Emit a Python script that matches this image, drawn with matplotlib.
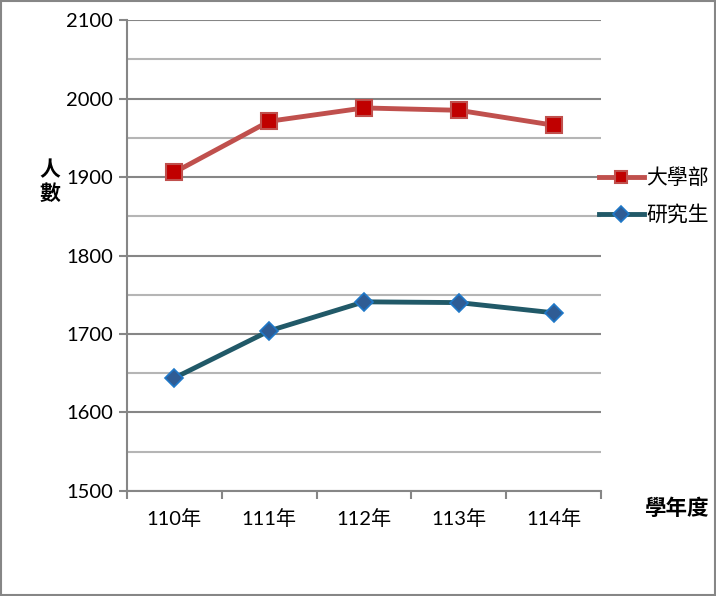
import matplotlib.pyplot as plt
from matplotlib.ticker import MultipleLocator, FixedLocator

# 學年度 enrollment data
years = ['110年', '111年', '112年', '113年', '114年']
undergrad = [1906, 1971, 1988, 1985, 1966]
graduate = [1644, 1704, 1741, 1740, 1727]

cjk = ['Noto Sans CJK TC', 'DejaVu Sans']
tick_font = ['Lato', 'Noto Sans CJK TC']

fig = plt.figure(figsize=(7.16, 5.96), dpi=100)
ax = fig.add_axes([0.1774, 0.1762, 0.662, 0.7902])

x = list(range(len(years)))
ax.plot(x, undergrad, color='#c0504d', lw=3.5, marker='s', ms=11,
        markerfacecolor='#c00000', markeredgecolor='#c0504d', mew=1.5, label='大學部')
ax.plot(x, graduate, color='#215968', lw=3.5, marker='D', ms=9,
        markerfacecolor='#2f5c94', markeredgecolor='#1f78c8', mew=1.2, label='研究生')

ax.set_xlim(-0.5, 4.5)
ax.set_ylim(1500, 2100)
ax.yaxis.set_major_locator(MultipleLocator(100))
ax.yaxis.set_minor_locator(MultipleLocator(50))
ax.grid(axis='y', which='major', color='#868686', lw=1.5)
ax.grid(axis='y', which='minor', color='#b5b5b5', lw=1.5)
ax.set_axisbelow(True)

ax.set_xticks(x)
ax.set_xticklabels(years, family=tick_font, fontsize=14.5)
ax.xaxis.set_minor_locator(FixedLocator([i - 0.5 for i in range(len(years) + 1)]))
ax.tick_params(axis='x', which='major', length=0, pad=13)
ax.tick_params(axis='x', which='minor', length=6, width=1.5, color='#868686', direction='out')
ax.tick_params(axis='y', which='major', length=6, width=1.5, color='#868686', pad=4, labelsize=14.5)
ax.tick_params(axis='y', which='minor', length=0)
for lab in ax.get_yticklabels():
    lab.set_family(tick_font)

for s in ['top', 'right']:
    ax.spines[s].set_visible(False)
for s in ['left', 'bottom']:
    ax.spines[s].set_color('#868686')
    ax.spines[s].set_linewidth(1.5)

fig.text(0.07, 0.695, '人\n數', family=cjk, fontsize=15, ha='center', va='center',
         linespacing=1.15, fontweight='bold')
fig.text(0.945, 0.147, '學年度', family=cjk, fontsize=15.5, ha='center', va='center',
         fontweight='bold')

leg = fig.legend(loc='center left', bbox_to_anchor=(0.836, 0.670), frameon=False,
                 prop={'family': cjk, 'size': 15}, handlelength=2.2, handletextpad=0.1,
                 labelspacing=0.75, borderpad=0, borderaxespad=0, markerscale=0.85)

# outer border of the figure
fig.patches.append(plt.Rectangle((0.002, 0.002), 0.996, 0.996, transform=fig.transFigure,
                                 fill=False, edgecolor='#868686', lw=1.5))

fig.savefig('out.png', dpi=100)
